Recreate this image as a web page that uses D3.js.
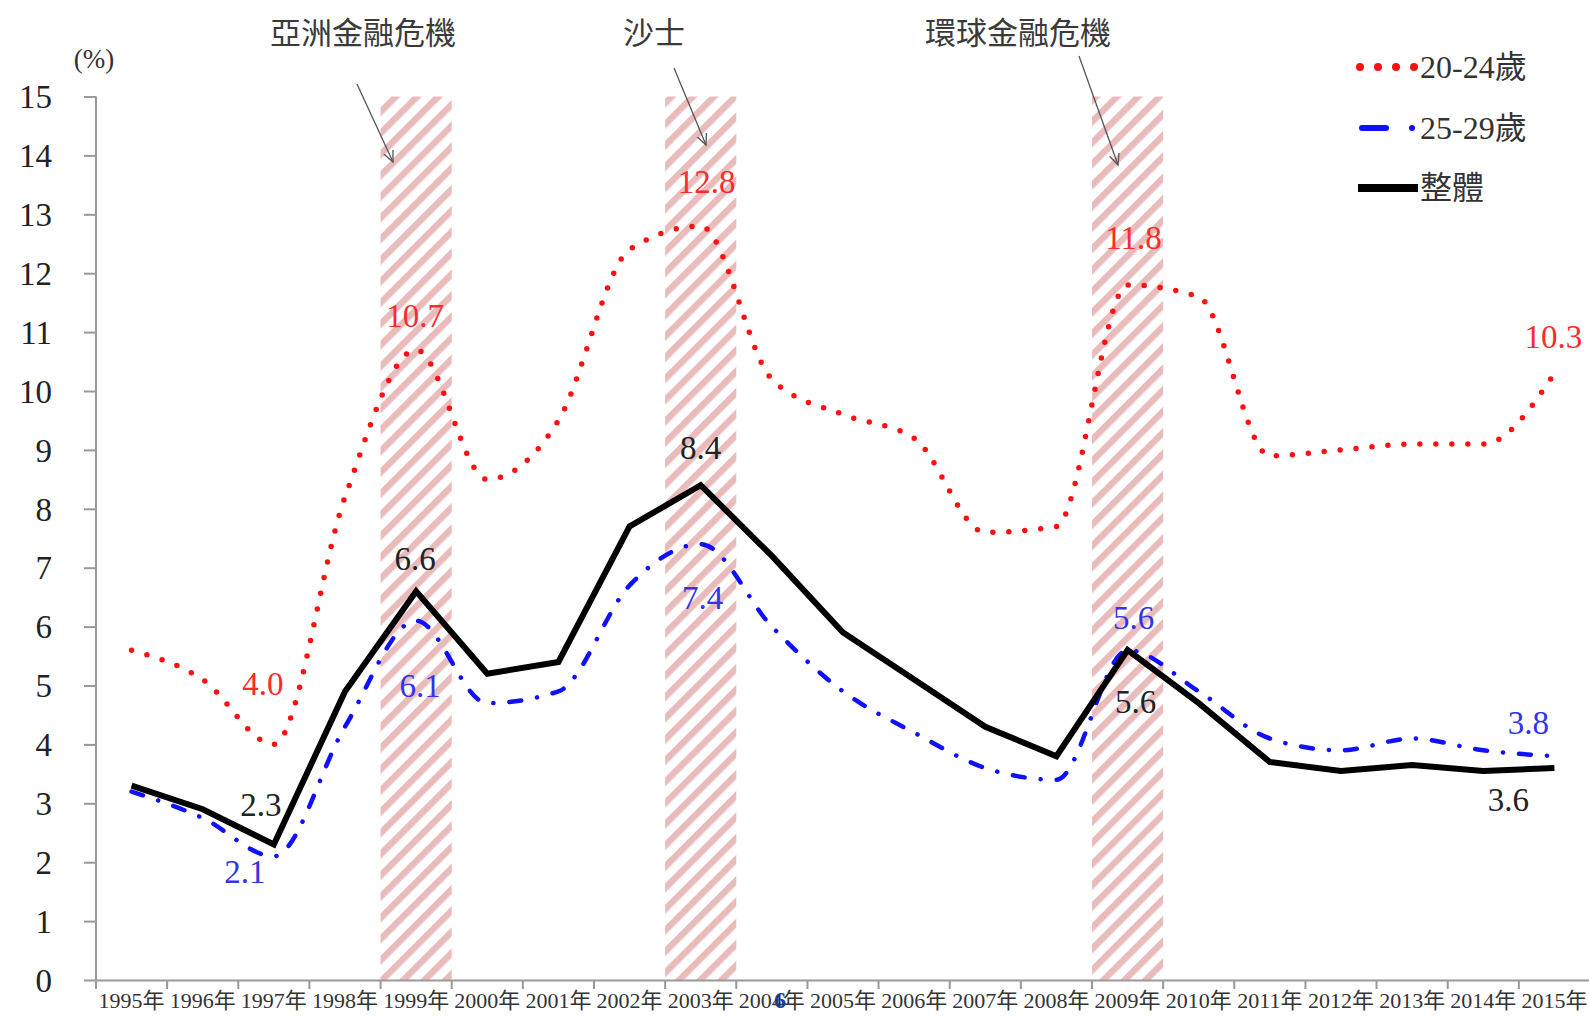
<!DOCTYPE html>
<html>
<head>
<meta charset="utf-8">
<script src="https://cdn.jsdelivr.net/npm/d3@7"></script>
<style>
  html, body { margin: 0; padding: 0; background: #fff; }
  svg { display: block; }
</style>
</head>
<body>
<svg id="chart" width="1589" height="1018"></svg>
<script>
// ---------------- data ----------------
const years = ["1995年","1996年","1997年","1998年","1999年","2000年","2001年","2002年","2003年","2004年",
               "2005年","2006年","2007年","2008年","2009年","2010年","2011年","2012年","2013年","2014年","2015年"];
const age2024 = [5.6, 5.1, 4.0, 8.2, 10.7, 8.5, 9.5, 12.4, 12.8, 10.2, 9.6, 9.2, 7.6, 7.7, 11.8, 11.6, 8.9, 9.0, 9.1, 9.1, 10.3];
const age2529 = [3.2, 2.75, 2.1, 4.3, 6.1, 4.7, 4.9, 6.7, 7.4, 6.0, 4.9, 4.2, 3.6, 3.4, 5.6, 4.9, 4.1, 3.9, 4.1, 3.9, 3.8];
const overall = [3.3, 2.9, 2.3, 4.9, 6.6, 5.2, 5.4, 7.7, 8.4, 7.2, 5.9, 5.1, 4.3, 3.8, 5.6, 4.7, 3.7, 3.55, 3.65, 3.55, 3.6];
const yTicks = [0,1,2,3,4,5,6,7,8,9,10,11,12,13,14,15];
const seriesNames = ["20-24歲", "25-29歲", "整體"];
const crisisYears = ["1999年", "2003年", "2009年"];
const crisisNames = ["亞洲金融危機", "沙士", "環球金融危機"];
// labelled points: [series index, year index]
const labelled = [[0,2],[0,4],[0,8],[0,14],[0,20],
                  [2,2],[2,4],[2,8],[2,14],[2,20],
                  [1,2],[1,4],[1,8],[1,14],[1,20]];

// ---------------- layout / style ----------------
const SERIF = "'Liberation Serif', 'DejaVu Serif', 'Noto Sans CJK TC', serif";
const CJK = "'Noto Sans CJK TC', 'Noto Sans CJK SC', sans-serif";
const svg = d3.select("#chart");
const x = d3.scaleBand().domain(years).range([96, 1590]).padding(0);
const y = d3.scaleLinear().domain([0, 15]).range([980, 96.5]);
const cx = d => x(d) + x.bandwidth() / 2;

const allSeries = [age2024, age2529, overall];
const colors = ["#ff1010", "#1010ff", "#000000"];
const labelColors = ["#ff2a2a", "#3333ee", "#222222"];
const labelOffsets = [
  [-11,-60],[-1,-34],[6,-44],[6,-47],[-1,-36],
  [-13,-40],[-1,-32],[0,-37],[8,52],[-46,32],
  [-29,16],[4,65],[2,54],[6,-32],[-26,-33]
];

// hatch pattern
const defs = svg.append("defs");
const pat = defs.append("pattern").attr("id","hatch").attr("patternUnits","userSpaceOnUse")
  .attr("width", 15).attr("height", 15).attr("patternTransform","rotate(-45)");
pat.append("rect").attr("x",0).attr("y",0).attr("width",15).attr("height",6.5)
  .attr("fill","#e6b3b3");
defs.append("marker").attr("id","arr").attr("viewBox","0 0 12 12").attr("refX",11).attr("refY",6)
  .attr("markerWidth",12).attr("markerHeight",12).attr("markerUnits","userSpaceOnUse").attr("orient","auto")
  .append("path").attr("d","M0,1 L11,6 L0,11").attr("fill","none").attr("stroke","#555").attr("stroke-width",1.3);

// shaded crisis bands
svg.append("g").selectAll("rect").data(crisisYears).join("rect")
  .attr("x", d => x(d)).attr("y", y(15))
  .attr("width", x.bandwidth()).attr("height", y(0) - y(15))
  .attr("fill", "url(#hatch)").attr("opacity", 0.9);

// crisis annotations
const annPos = [
  {tx: 363, ty: 30, x1: 357, y1: 84, x2: 393, y2: 162},
  {tx: 654, ty: 30, x1: 674, y1: 68, x2: 706, y2: 145},
  {tx: 1018, ty: 30, x1: 1079, y1: 56, x2: 1118, y2: 165}
];
const ann = svg.append("g");
ann.selectAll("text").data(crisisNames).join("text")
  .style("font-family", CJK)
  .attr("x", (d,i) => annPos[i].tx).attr("y", (d,i) => annPos[i].ty)
  .attr("text-anchor","middle").attr("dominant-baseline","central")
  .attr("font-size", 31).attr("fill", "#3a3a3a").text(d => d);
ann.selectAll("line").data(crisisNames).join("line")
  .attr("x1", (d,i) => annPos[i].x1).attr("y1", (d,i) => annPos[i].y1)
  .attr("x2", (d,i) => annPos[i].x2).attr("y2", (d,i) => annPos[i].y2)
  .attr("stroke","#555").attr("stroke-width",1.3).attr("marker-end","url(#arr)");

// axes
const yAxis = svg.append("g").attr("transform","translate(96,0)")
  .call(d3.axisLeft(y).tickValues(yTicks).tickSize(12).tickFormat(d3.format("d")));
yAxis.attr("font-family", null);
yAxis.select(".domain").attr("stroke","#999").attr("stroke-width",2).attr("d","M0,96.5V980");
yAxis.selectAll(".tick line").attr("stroke","#999").attr("stroke-width",2);
yAxis.selectAll(".tick text").style("font-family", SERIF).attr("font-size",33).attr("fill","#222")
  .attr("x",-44).attr("dy","0.34em");

const xAxis = svg.append("g").attr("transform","translate(0,980)")
  .call(d3.axisBottom(x).tickSize(0).tickPadding(0));
xAxis.attr("font-family", null);
xAxis.select(".domain").attr("stroke","#999").attr("stroke-width",2);
xAxis.selectAll(".tick text").style("font-family", SERIF).attr("font-size",22).attr("fill","#333")
  .attr("y", 28).attr("dy","0");
// boundary ticks
xAxis.append("g").selectAll("line").data(d3.range(years.length + 1)).join("line")
  .attr("x1", i => 96 + i * x.bandwidth()).attr("x2", i => 96 + i * x.bandwidth())
  .attr("y1", 0).attr("y2", 9).attr("stroke","#999").attr("stroke-width",2);

svg.append("text").style("font-family", SERIF).attr("x", 94).attr("y", 59)
  .attr("text-anchor","middle").attr("dominant-baseline","central")
  .attr("font-size", 27).attr("fill","#333").text("(%)");

// lines
const lineSmooth = d3.line().x((d,i) => cx(years[i])).y(d => y(d)).curve(d3.curveMonotoneX);
const lineStraight = d3.line().x((d,i) => cx(years[i])).y(d => y(d));

svg.append("path").datum(age2024).attr("d", lineSmooth)
  .attr("fill","none").attr("stroke", colors[0]).attr("stroke-width",5.5)
  .attr("stroke-linecap","round").attr("stroke-dasharray","0 16");
svg.append("path").datum(age2529).attr("d", lineSmooth)
  .attr("fill","none").attr("stroke", colors[1]).attr("stroke-width",4.5)
  .attr("stroke-linecap","round").attr("stroke-dasharray","12 16 0.1 16");
svg.append("path").datum(overall).attr("d", lineStraight)
  .attr("fill","none").attr("stroke", colors[2]).attr("stroke-width",6)
  .attr("stroke-linejoin","miter");

// value labels
svg.append("g").selectAll("text").data(labelled).join("text")
  .style("font-family", SERIF)
  .attr("x", (d,k) => cx(years[d[1]]) + labelOffsets[k][0])
  .attr("y", (d,k) => y(allSeries[d[0]][d[1]]) + labelOffsets[k][1])
  .attr("text-anchor","middle").attr("dominant-baseline","central")
  .attr("font-size", 33).attr("fill", d => labelColors[d[0]])
  .text(d => allSeries[d[0]][d[1]].toFixed(1));

// legend
const legY = [67, 128, 188];
const leg = svg.append("g");
leg.append("line").attr("x1",1360).attr("x2",1415).attr("y1",legY[0]).attr("y2",legY[0])
  .attr("stroke",colors[0]).attr("stroke-width",8).attr("stroke-linecap","round").attr("stroke-dasharray","0 18");
leg.append("line").attr("x1",1362).attr("x2",1413).attr("y1",legY[1]).attr("y2",legY[1])
  .attr("stroke",colors[1]).attr("stroke-width",6).attr("stroke-linecap","round").attr("stroke-dasharray","24 26 0.1 30");
leg.append("line").attr("x1",1358).attr("x2",1418).attr("y1",legY[2]).attr("y2",legY[2])
  .attr("stroke",colors[2]).attr("stroke-width",8);
leg.selectAll("text").data(seriesNames).join("text")
  .style("font-family", SERIF).attr("x",1420).attr("y",(d,i) => legY[i])
  .attr("dominant-baseline","central").attr("font-size",32).attr("fill","#333").text(d => d);

// page-number artifact
svg.append("text").style("font-family", SERIF).attr("x",780).attr("y",1000)
  .attr("text-anchor","middle").attr("dominant-baseline","central")
  .attr("font-size",24).attr("font-weight","bold").attr("fill","#1f3d99").text("6");
</script>
</body>
</html>
